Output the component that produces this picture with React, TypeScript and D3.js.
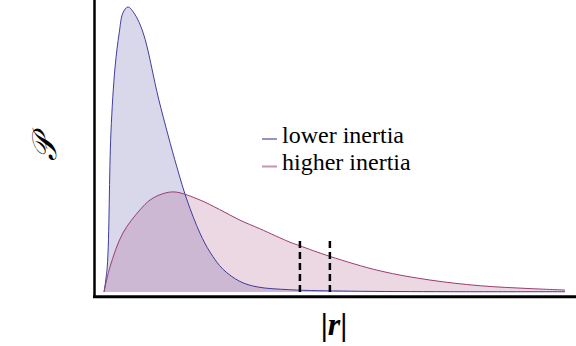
import React from "react";
import * as d3 from "d3";

// values (x in arbitrary |r| units, y normalised)
const lowX = [0, 0.07, 0.15, 0.24, 0.33, 0.41, 0.52, 0.65, 0.85, 1.19, 1.58, 1.8, 2.08, 2.3, 2.58, 2.95, 3.32, 4.03, 5.34, 7.5, 10];
const lowY = [0, 0.088, 0.558, 0.789, 0.909, 0.979, 1.0, 0.979, 0.909, 0.674, 0.439, 0.323, 0.207, 0.14, 0.08, 0.037, 0.018, 0.008, 0.003, 0.001, 0.001];

const highX = [0, 0.13, 0.41, 0.78, 1.0, 1.26, 1.54, 2.08, 2.5, 2.95, 3.38, 4.03, 4.25, 4.9, 5.99, 7.07, 8.16, 9.24, 10];
const highY = [0, 0.088, 0.207, 0.288, 0.323, 0.344, 0.351, 0.323, 0.29, 0.252, 0.222, 0.175, 0.162, 0.125, 0.074, 0.042, 0.022, 0.012, 0.007];

const dashX = [4.25, 4.9];
const dashTop = 0.179;

const labels = ["lower inertia", "higher inertia"];
const colors = ["rgb(64,61,153)", "rgb(153,61,113)"];

const W = 576;
const H = 346;
const serif = "Liberation Serif";

export default function App() {
  const x = d3.scaleLinear().domain([0, 10]).range([104, 565]);
  const y = d3.scaleLinear().domain([0, 1]).range([292, 7]);

  const series = [
    lowX.map((v, i) => [v, lowY[i]] as [number, number]),
    highX.map((v, i) => [v, highY[i]] as [number, number]),
  ];

  const curve = d3.curveCatmullRom.alpha(0.5);

  const line = d3
    .line<[number, number]>()
    .x((d) => x(d[0]))
    .y((d) => y(d[1]))
    .curve(curve);

  const area = d3
    .area<[number, number]>()
    .x((d) => x(d[0]))
    .y0(y(0))
    .y1((d) => y(d[1]))
    .curve(curve);

  return (
    <svg
      width={W}
      height={H}
      style={{ position: "absolute", left: 0, top: 0, background: "white" }}
    >
      {series.map((s, i) => (
        <path key={"a" + i} d={area(s) || ""} fill={colors[i]} fillOpacity={0.2} />
      ))}
      {series.map((s, i) => (
        <path key={"l" + i} d={line(s) || ""} fill="none" stroke={colors[i]} strokeWidth={1} />
      ))}

      {dashX.map((d) => (
        <line
          key={d}
          x1={x(d)}
          x2={x(d)}
          y1={y(dashTop)}
          y2={296}
          stroke="black"
          strokeWidth={2.5}
          strokeDasharray="7,4"
        />
      ))}

      {/* frame */}
      <line x1={94.5} x2={94.5} y1={0} y2={298} stroke="black" strokeWidth={2.5} />
      <line x1={93} x2={W} y1={296.8} y2={296.8} stroke="black" strokeWidth={3} />

      {/* legend */}
      {labels.map((t, i) => (
        <g key={t} transform={`translate(262, ${139 + i * 27.5})`}>
          <line x1={0} x2={15} y1={0} y2={0} stroke={colors[i]} strokeOpacity={0.55} strokeWidth={2} />
          <text x={20} y={3.5} style={{ fontFamily: serif, fontSize: 24 }} fill="black">
            {t}
          </text>
        </g>
      ))}

      {/* axis labels */}
      <text
        transform="translate(56, 148) rotate(-90)"
        textAnchor="middle"
        style={{ fontFamily: serif, fontStyle: "italic", fontSize: 34 }}
      >
        𝒫
      </text>
      <text
        x={334}
        y={335}
        textAnchor="middle"
        style={{ fontFamily: serif, fontWeight: "bold", fontSize: 32 }}
      >
        |<tspan style={{ fontStyle: "italic" }}>r</tspan>|
      </text>
    </svg>
  );
}
